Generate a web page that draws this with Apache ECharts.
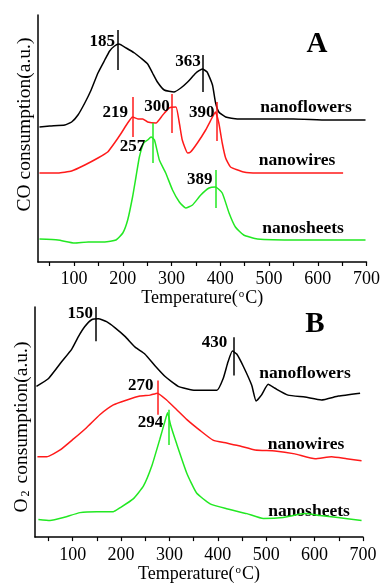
<!DOCTYPE html>
<html>
<head>
<meta charset="utf-8">
<script src="https://cdn.jsdelivr.net/npm/echarts@6/dist/echarts.min.js"></script>
<style>
  html, body { margin: 0; padding: 0; background: #fff; }
  #main { width: 383px; height: 584px; }
</style>
</head>
<body>
<div id="main"></div>
<script>
// sample names and temperature axis
var sampleNames = ["nanoflowers", "nanowires", "nanosheets"];
var tickLabels = [100, 200, 300, 400, 500, 600, 700];
var tickMarks = [50, 100, 150, 200, 250, 300, 350, 400, 450, 500, 550, 600, 650, 700];

// A: CO consumption, [temperature, signal a.u.]
var coFlowers = [[29,135],[50,136],[81,137],[95,140],[108,147],[122,159],[135,172],[149,189],[163,202],[173,211],[183,216],[192,218],[207,214],[224,209],[237,204],[251,198],[261,189],[271,180],[285,172],[305,170],[319,174],[333,180],[350,189],[363,193],[373,190],[384,177],[390,160],[397,150],[411,145],[435,143],[476,143],[550,143],[620,142],[698,142]];
var coWires = [[29,89],[67,89],[95,91],[122,97],[149,104],[169,110],[183,119],[197,129],[210,139],[220,145],[231,143],[241,143],[251,140],[268,139],[282,147],[295,154],[309,155],[316,139],[322,122],[333,109],[339,110],[353,119],[370,132],[384,145],[390,150],[397,139],[404,119],[411,104],[421,95],[448,90],[476,89],[560,89],[652,89]];
var coSheets = [[29,23],[67,22],[101,19],[129,20],[163,20],[186,22],[200,29],[210,42],[220,65],[227,85],[234,105],[243,119],[251,122],[258,125],[265,122],[275,102],[288,89],[302,72],[316,60],[329,54],[343,57],[360,67],[377,74],[390,75],[404,69],[418,49],[431,35],[448,27],[476,23],[560,22],[698,22]];

// B: O2 consumption
var o2Flowers = [[25,154],[50,162],[77,179],[98,192],[112,205],[125,215],[139,222],[153,223],[170,220],[187,214],[208,205],[229,194],[249,187],[270,175],[291,164],[318,154],[353,150],[398,150],[411,162],[421,179],[430,190],[439,187],[453,174],[470,155],[479,139],[490,145],[504,156],[518,152],[545,145],[580,143],[614,140],[649,144],[694,147]];
var o2Wires = [[27,82],[46,82],[74,89],[101,100],[129,112],[156,125],[184,135],[212,140],[239,144],[260,145],[275,147],[294,140],[315,130],[336,120],[363,109],[390,99],[418,96],[446,93],[477,89],[518,88],[559,85],[601,80],[635,82],[666,80],[697,78]];
var o2Sheets = [[29,18],[53,17],[81,20],[115,25],[150,26],[184,26],[198,30],[225,39],[246,52],[263,72],[280,100],[291,119],[296,127],[302,115],[315,95],[336,65],[356,45],[384,34],[418,29],[460,24],[494,19],[535,20],[580,24],[611,22],[648,20],[697,17]];

// peak marks: [temperature, low, high, label]
var coPeaksFlowers = [[190, 192, 232, "185"], [364, 170, 207, "363"]];
var coPeaksWires = [[221, 125, 165, "219"], [300.6, 129, 168, "300"], [392, 121, 160, "390"]];
var coPeaksSheets = [[260.6, 99, 139, "257"], [390, 54, 92, "389"]];
var o2PeaksFlowers = [[148, 200, 235, "150"], [432, 165, 204, "430"]];
var o2PeaksWires = [[275, 125, 160, "270"]];
var o2PeaksSheets = [[297.5, 94, 130, "294"]];

// label offsets (px) from the top of each peak mark
var coOffFlowers = [[-3, 12], [-2, 7]];
var coOffWires = [[-5, 16], [-2, 13], [-2, 11]];
var coOffSheets = [[-7, 24], [-3, 10]];
var o2OffFlowers = [[-3, 7], [-6, 5]];
var o2OffWires = [[-4, 5]];
var o2OffSheets = [[-5, 13]];

var colors = ["#000000", "#ff1a1a", "#22e822"];
var serif = '"Liberation Serif", "Times New Roman", serif';

var chartDom = document.getElementById("main");
var myChart = echarts.init(chartDom);

const makeSeries = (data, peaks, offs, color, idx) => {
  return {
    type: "line",
    xAxisIndex: idx,
    yAxisIndex: idx,
    data: data,
    showSymbol: false,
    smooth: 0.15,
    silent: true,
    lineStyle: { color: color, width: 1.5 },
    markLine: {
      silent: true,
      symbol: "none",
      label: { show: false },
      lineStyle: { color: color, width: 1.5, type: "solid" },
      data: peaks.map(p => [{ coord: [p[0], p[1]] }, { coord: [p[0], p[2]] }])
    },
    markPoint: {
      silent: true,
      symbol: "circle",
      symbolSize: 0,
      label: {
        show: true,
        position: "left",
        distance: 0,
        formatter: "{c}",
        color: "#000",
        fontFamily: serif,
        fontWeight: "bold",
        fontSize: 17
      },
      data: peaks.map((p, i) => ({
        coord: [p[0], p[2]],
        value: p[3],
        label: { offset: offs[i] }
      }))
    }
  };
};

const xAxisFor = (idx, min, margin, gap) => ({
  type: "value",
  gridIndex: idx,
  min: min,
  max: 700,
  name: "Temperature({sup|o}C)",
  nameLocation: "middle",
  nameGap: gap,
  nameTextStyle: {
    color: "#000", fontFamily: serif, fontSize: 18,
    rich: { sup: { fontSize: 11, fontFamily: serif, color: "#000", verticalAlign: "top", padding: [0, 1, 7, 1] } }
  },
  axisLine: { lineStyle: { color: "#000", width: 1.5 } },
  axisTick: { show: true, inside: false, length: 4, customValues: tickMarks, lineStyle: { color: "#000", width: 1.2 } },
  axisLabel: { customValues: tickLabels, color: "#000", fontFamily: serif, fontSize: 18, margin: margin },
  splitLine: { show: false }
});

// pad shifts the rotated name along the axis
const yAxisFor = (idx, max, name, pad, rich) => ({
  type: "value",
  gridIndex: idx,
  min: 0,
  max: max,
  name: name,
  nameLocation: "middle",
  nameGap: 3,
  nameTextStyle: { color: "#000", fontFamily: serif, fontSize: 19.5, padding: pad, rich: rich },
  axisLine: { show: true, lineStyle: { color: "#000", width: 1.5 } },
  axisTick: { show: false },
  axisLabel: { show: false },
  splitLine: { show: false }
});

const textAt = (x, y, text, size) => ({
  type: "text",
  x: x,
  y: y,
  silent: true,
  style: {
    text: text,
    fill: "#000",
    font: "bold " + size + "px " + serif,
    textAlign: "center",
    textVerticalAlign: "middle"
  }
});

var option = {
  animation: false,
  backgroundColor: "#fff",
  grid: [
    { left: 38, right: 15, top: 15, height: 247 },
    { left: 35, right: 20, top: 307, height: 235 }
  ],
  xAxis: [xAxisFor(0, 26, 8, 12), xAxisFor(1, 22, 9, 18)],
  yAxis: [
    yAxisFor(0, 247, "CO consumption(a.u.)", [0, 0, 0, 28], {}),
    yAxisFor(1, 235, "O{sub|2} consumption(a.u.)", [0, 10, 0, 0], {
      sub: { fontSize: 12, fontFamily: serif, color: "#000", verticalAlign: "bottom", padding: [6, 2, 0, 2] }
    })
  ],
  graphic: [
    textAt(317, 45, "A", 29),
    textAt(306, 107, sampleNames[0], 17.5),
    textAt(297, 160, sampleNames[1], 17.5),
    textAt(303, 228, sampleNames[2], 17.5),
    textAt(315, 325, "B", 29),
    textAt(305, 373, sampleNames[0], 17.5),
    textAt(306, 444, sampleNames[1], 17.5),
    textAt(309, 511, sampleNames[2], 17.5)
  ],
  series: [
    makeSeries(coFlowers, coPeaksFlowers, coOffFlowers, colors[0], 0),
    makeSeries(coWires, coPeaksWires, coOffWires, colors[1], 0),
    makeSeries(coSheets, coPeaksSheets, coOffSheets, colors[2], 0),
    makeSeries(o2Flowers, o2PeaksFlowers, o2OffFlowers, colors[0], 1),
    makeSeries(o2Wires, o2PeaksWires, o2OffWires, colors[1], 1),
    makeSeries(o2Sheets, o2PeaksSheets, o2OffSheets, colors[2], 1)
  ]
};

if (option && typeof option === "object") {
  myChart.setOption(option);
}
</script>
</body>
</html>
